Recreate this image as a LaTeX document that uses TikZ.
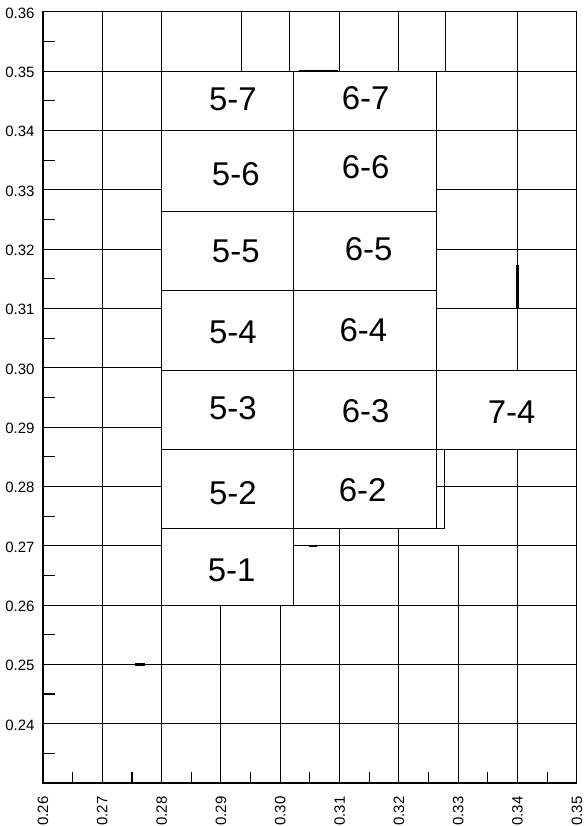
\documentclass[tikz,border=0pt]{standalone}
\usepackage{fontspec}
\setmainfont{Liberation Sans}
\begin{document}
\begin{tikzpicture}[x=1cm,y=1cm,
  gridline/.style={line width=0.5pt,black},
  thickseg/.style={line width=1.1pt,black},
  ticklab/.style={font=\fontsize{7.2}{8}\selectfont,inner sep=0pt},
  blocklab/.style={font=\fontsize{15.8}{18}\selectfont,inner sep=0pt}]
\useasboundingbox (-0.725,-0.725) rectangle (9.105,13.2);
% frame
\draw[gridline] (0,0) rectangle (9,13);
% ticks
\foreach \v in {0.5,1.5,...,12.5} \draw[gridline] (0,\v) -- (0.2,\v);
\foreach \u in {0.5,1.5,...,8.5} \draw[gridline] (\u,0) -- (\u,0.19);
% axis labels
\foreach \v/\t in {13/0.36,12/0.35,11/0.34,10/0.33,9/0.32,8/0.31,7/0.30,6/0.29,5/0.28,4/0.27,3/0.26,2/0.25,1/0.24}
  \node[ticklab,anchor=east] (yl\v) at (-0.135,\v-0.02) {\t};
\foreach \u/\t in {0/0.26,1/0.27,2/0.28,3/0.29,4/0.30,5/0.31,6/0.32,7/0.33,8/0.34,9/0.35}
  \node[ticklab,anchor=east,rotate=90] (xl\u) at (\u,-0.22) {\t};
% verticals
\draw[gridline] (1,0) -- (1,13);
\draw[gridline] (2,0) -- (2,13);
\draw[gridline] (3,0) -- (3,3);
\draw[gridline] (4,0) -- (4,3);
\draw[gridline] (5,0) -- (5,4.29);
\draw[gridline] (6,0) -- (6,4.29);
\draw[gridline] (7,0) -- (7,4);
\draw[gridline] (8,0) -- (8,5.63);
\draw[gridline] (8,6.96) -- (8,13);
\draw[gridline] (3.35,12) -- (3.35,13);
\draw[gridline] (4.15,12) -- (4.15,13);
\draw[gridline] (5,12) -- (5,13);
\draw[gridline] (6,12) -- (6,13);
\draw[gridline] (6.78,12) -- (6.78,13);
\draw[gridline] (4.22,3) -- (4.22,12);
\draw[gridline] (6.64,4.29) -- (6.64,12);
\draw[gridline] (6.64,4.29) -- (6.77,4.29) -- (6.77,5.63);
% horizontals
\foreach \v in {1,2,3,11,12} \draw[gridline] (0,\v) -- (9,\v);
\foreach \v in {4,5,6,7,8,9,10} \draw[gridline] (0,\v) -- (2,\v);
\draw[gridline] (4.22,4) -- (9,4);
\foreach \v in {5,8,9,10} \draw[gridline] (6.64,\v) -- (9,\v);
\draw[gridline] (2,4.29) -- (6.64,4.29);
\draw[gridline] (2,5.63) -- (9,5.63);
\draw[gridline] (2,6.96) -- (9,6.96);
\draw[gridline] (2,8.30) -- (6.64,8.30);
\draw[gridline] (2,9.64) -- (6.64,9.64);
% thick segments
\draw[thickseg] (4.31,12) -- (4.98,12);
\draw[thickseg] (8,8.0) -- (8,8.73);
\draw[thickseg] (4.49,4) -- (4.62,4);
\draw[thickseg] (1.55,2) -- (1.72,2);
% block labels
\node[blocklab] (b57) at (3.2,11.52) {5-7};
\node[blocklab] (b67) at (5.44,11.55) {6-7};
\node[blocklab] (b56) at (3.25,10.27) {5-6};
\node[blocklab] (b66) at (5.44,10.38) {6-6};
\node[blocklab] (b55) at (3.25,8.97) {5-5};
\node[blocklab] (b65) at (5.49,9.0) {6-5};
\node[blocklab] (b54) at (3.2,7.6) {5-4};
\node[blocklab] (b64) at (5.40,7.63) {6-4};
\node[blocklab] (b53) at (3.2,6.32) {5-3};
\node[blocklab] (b63) at (5.44,6.26) {6-3};
\node[blocklab] (b74) at (7.90,6.25) {7-4};
\node[blocklab] (b52) at (3.2,4.89) {5-2};
\node[blocklab] (b62) at (5.39,4.93) {6-2};
\node[blocklab] (b51) at (3.18,3.58) {5-1};
\end{tikzpicture}
\end{document}
